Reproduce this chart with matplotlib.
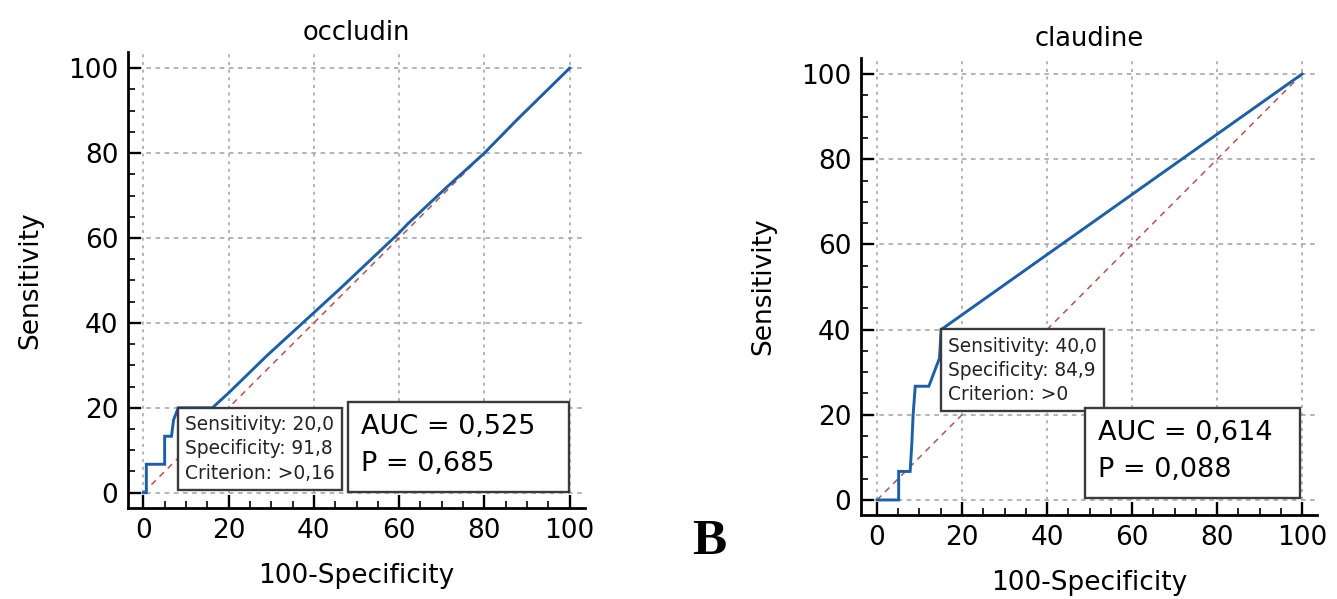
import matplotlib
matplotlib.use("Agg")
import matplotlib.pyplot as plt
from matplotlib.ticker import MultipleLocator
from matplotlib.patches import Rectangle

plt.rcParams['font.family'] = ['DejaVu Sans']

# ---------------- data ----------------
titles = ["occludin", "claudine"]

occ_fpr = [0, 0.7, 0.7, 5.0, 5.0, 6.6, 7.1, 8.2, 16.2, 20, 28.9, 40, 46.3, 60, 62.2, 71, 80, 87.6, 100]
occ_tpr = [0, 0, 6.7, 6.7, 13.3, 13.3, 17.2, 20, 20, 23.5, 32.2, 42.4, 48.2, 61.2, 63.5, 71.8, 80, 87.8, 100]

cla_fpr = [0, 5.1, 5.1, 7.8, 8.2, 8.5, 9.0, 12.2, 14.7, 15.1, 100]
cla_tpr = [0, 0, 6.7, 6.7, 13.3, 20, 26.7, 26.7, 33.3, 40, 100]

cut_sens = ["20,0", "40,0"]
cut_spec = ["91,8", "84,9"]
cut_crit = [">0,16", ">0"]
cut_x = [8.2, 15.1]      # 100 - specificity at cutoff
cut_y = [20.0, 40.0]     # sensitivity at cutoff

auc_vals = ["0,525", "0,614"]
p_vals = ["0,685", "0,088"]

ticks = [0, 20, 40, 60, 80, 100]

# ---------------- figure ----------------
W, H = 1337, 599
fig = plt.figure(figsize=(W / 100, H / 100), dpi=100)

positions = [
    [128 / W, (H - 508) / H, 457 / W, 456 / H],
    [861 / W, (H - 515) / H, 456 / W, 457 / H],
]
xlims = [(-3.6, 103.6), (-3.76, 103.5)]
ylims = [(-3.6, 103.8), (-3.53, 103.76)]
curves = [(occ_fpr, occ_tpr), (cla_fpr, cla_tpr)]
auc_boxes = [(48.1, 0.2, 99.8, 21.4), (49.0, 0.4, 99.5, 21.6)]

blue = "#1c5ea8"
red = "#b5524f"
grid_c = "#a0a0a0"

for i in range(2):
    ax = fig.add_axes(positions[i])
    ax.set_xlim(*xlims[i])
    ax.set_ylim(*ylims[i])
    for s in ["top", "right"]:
        ax.spines[s].set_visible(False)
    for s in ["left", "bottom"]:
        ax.spines[s].set_linewidth(2.0)
        ax.spines[s].set_color("black")

    ax.set_xticks(ticks)
    ax.set_yticks(ticks)
    ax.xaxis.set_minor_locator(MultipleLocator(5))
    ax.yaxis.set_minor_locator(MultipleLocator(5))
    ax.tick_params(which="major", direction="in", length=9.5, width=1.7,
                   labelsize=19, pad=7, colors="black")
    ax.tick_params(which="minor", direction="in", length=5, width=1.2)

    ax.xaxis.grid(True, which="major", color=grid_c, linewidth=1.1,
                  linestyle=(0, (2.0, 3)))
    ax.yaxis.grid(True, which="major", color=grid_c, linewidth=1.1,
                  linestyle=(0, (3, 3)))
    ax.set_axisbelow(True)

    # diagonal reference line
    ax.plot([0, 100], [0, 100], color=red, linewidth=1.1,
            linestyle=(0, (4, 3.5)), zorder=2)
    # ROC curve
    fx, fy = curves[i]
    ax.plot(fx, fy, color=blue, linewidth=2.1, zorder=3,
            solid_joinstyle="miter")

    ax.set_title(titles[i], fontsize=18.5, pad=9)
    ax.set_xlabel("100-Specificity", fontsize=19, labelpad=14)
    ax.set_ylabel("Sensitivity", fontsize=19, labelpad=18)

    # cutoff annotation
    fs = 13.4
    padf = 0.38
    off = padf * fs
    ax.annotate(
        f"Sensitivity: {cut_sens[i]}\nSpecificity: {cut_spec[i]}\nCriterion: {cut_crit[i]}",
        xy=(cut_x[i], cut_y[i]), xytext=(off, -off + 0.1), textcoords="offset points",
        ha="left", va="top", fontsize=fs, linespacing=1.36, color="#222222",
        bbox=dict(boxstyle=f"square,pad={padf}", facecolor="white",
                  edgecolor="#3a3a3a", linewidth=1.7),
        zorder=5,
    )

    # AUC box
    x0, y0, x1, y1 = auc_boxes[i]
    ax.add_patch(Rectangle((x0, y0), x1 - x0, y1 - y0, facecolor="white",
                           edgecolor="#3a3a3a", linewidth=1.7, zorder=5))
    ax.text(x0 + 3.0, y1 - 7.6, f"AUC = {auc_vals[i]}", fontsize=19.5,
            va="baseline", ha="left", zorder=6)
    ax.text(x0 + 3.0, y1 - 16.3, f"P = {p_vals[i]}", fontsize=19.5,
            va="baseline", ha="left", zorder=6)

fig.text(709 / W, 1 - 554 / H, "B", fontsize=37, fontweight="bold",
         family="Liberation Serif", ha="center", va="baseline")

fig.savefig("out.png", dpi=100)
